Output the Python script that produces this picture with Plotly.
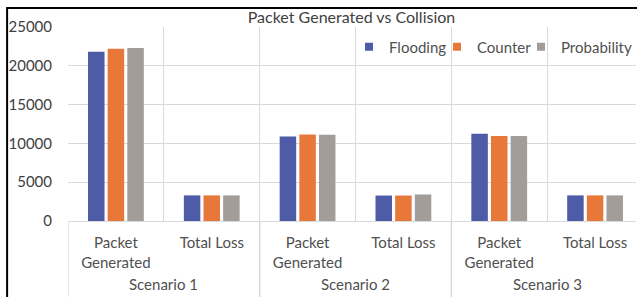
import plotly.graph_objects as go

scenarios = ["Scenario 1", "Scenario 1", "Scenario 2", "Scenario 2", "Scenario 3", "Scenario 3"]
metrics = ["Packet<br>Generated", "Total Loss", "Packet<br>Generated", "Total Loss", "Packet<br>Generated", "Total Loss"]
flooding = [21800, 3300, 10900, 3280, 11250, 3300]
counter = [22200, 3300, 11150, 3280, 10950, 3300]
probability = [22300, 3300, 11100, 3420, 10950, 3300]
series = [("Flooding", flooding, "#4E5BA6"), ("Counter", counter, "#E8783A"), ("Probability", probability, "#A39D99")]
yticks = [0, 5000, 10000, 15000, 20000, 25000]

FONT = "Lato"
TXT = "#505050"
GRID = "#D9D9D9"

W, H = 637, 297
ml, mr, mt, mb = 68, 0, 27, 76
pw = W - ml - mr
ph = H - mt - mb
y0px = H - mb

keys = [f"{s}|{m}" for s, m in zip(scenarios, metrics)]
n = len(keys)

fig = go.Figure()
for name, vals, col in series:
    fig.add_trace(go.Bar(name=name, x=keys, y=vals, showlegend=False,
                         marker=dict(color=col, line=dict(width=0))))

# legend entries with small square swatches, each in its own legend box
legend_text_x = [391, 479, 564]
for i, (name, vals, col) in enumerate(series):
    lid = "legend" if i == 0 else f"legend{i + 1}"
    fig.add_trace(go.Scatter(name=name, x=[keys[0]], y=[None], mode="markers", legend=lid,
                             marker=dict(symbol="square", size=8, color=col), showlegend=True,
                             hoverinfo="skip"))

legend_common = dict(orientation="h", xanchor="left", y=(y0px - 47) / ph, yanchor="middle",
                     bgcolor="rgba(0,0,0,0)", font=dict(size=15, color=TXT, family=FONT),
                     itemwidth=30, itemsizing="trace")
legends = {}
for i, tx in enumerate(legend_text_x):
    lid = "legend" if i == 0 else f"legend{i + 1}"
    legends[lid] = dict(legend_common, x=(tx - 42 - ml) / pw)

fig.update_layout(
    width=W, height=H,
    margin=dict(l=ml, r=mr, t=mt, b=mb),
    paper_bgcolor="white", plot_bgcolor="white",
    barmode="group", bargap=0.385, bargroupgap=0.16,
    font=dict(family=FONT, color=TXT, size=15),
    title=dict(text="Packet Generated vs Collision", x=(352 - ml) / pw, xref="paper", xanchor="center",
               y=1 - 17 / H, yref="container", yanchor="middle", font=dict(size=16, color="#404040", family=FONT)),
    showlegend=True,
    xaxis=dict(type="category", categoryorder="array", categoryarray=keys,
               tickmode="array", tickvals=keys, ticktext=metrics,
               range=[-0.5, -0.5 + pw / 96.0], tickson="boundaries",
               showgrid=True, gridcolor=GRID, gridwidth=1.2,
               showline=True, linecolor=GRID, ticks="", ticklabelstandoff=8,
               tickfont=dict(size=15, color=TXT, family=FONT), zeroline=False),
    yaxis=dict(range=[0, 25000], tickvals=yticks, ticktext=[str(v) for v in yticks],
               showgrid=True, gridcolor=GRID, gridwidth=1.2, zeroline=False,
               tickfont=dict(size=15, color="#404040", family=FONT), ticks="", ticklabelstandoff=15),
    **legends,
)

# scenario group labels and dividers below the axis
groups = []
for i, s in enumerate(scenarios):
    if i == 0 or s != scenarios[i - 1]:
        groups.append([s, i, i])
    else:
        groups[-1][2] = i
yb = (y0px - 300) / ph
for s, a, b in groups:
    fig.add_annotation(x=(a + b) / 2, xref="x", y=(y0px - 284) / ph, yref="paper", text=s,
                       showarrow=False, yanchor="middle", font=dict(size=15, color=TXT, family=FONT))
    for xb in (a - 0.5, b + 0.5):
        fig.add_shape(type="line", xref="x", yref="paper", x0=xb, x1=xb, y0=0, y1=yb,
                      line=dict(color=GRID, width=1.2))

# outer black frame of the original screenshot (top and left edges)
xl = (7 - ml) / pw
yt = (y0px - 8) / ph
fig.add_shape(type="rect", xref="paper", yref="paper", x0=xl, x1=1.3, y0=yb, y1=yt,
              line=dict(color="black", width=2), fillcolor="rgba(0,0,0,0)")

fig.write_html("out.html", config={"displayModeBar": False},
               post_script="document.documentElement.style.overflow='hidden';document.body.style.margin='0';document.body.style.overflow='hidden';")
